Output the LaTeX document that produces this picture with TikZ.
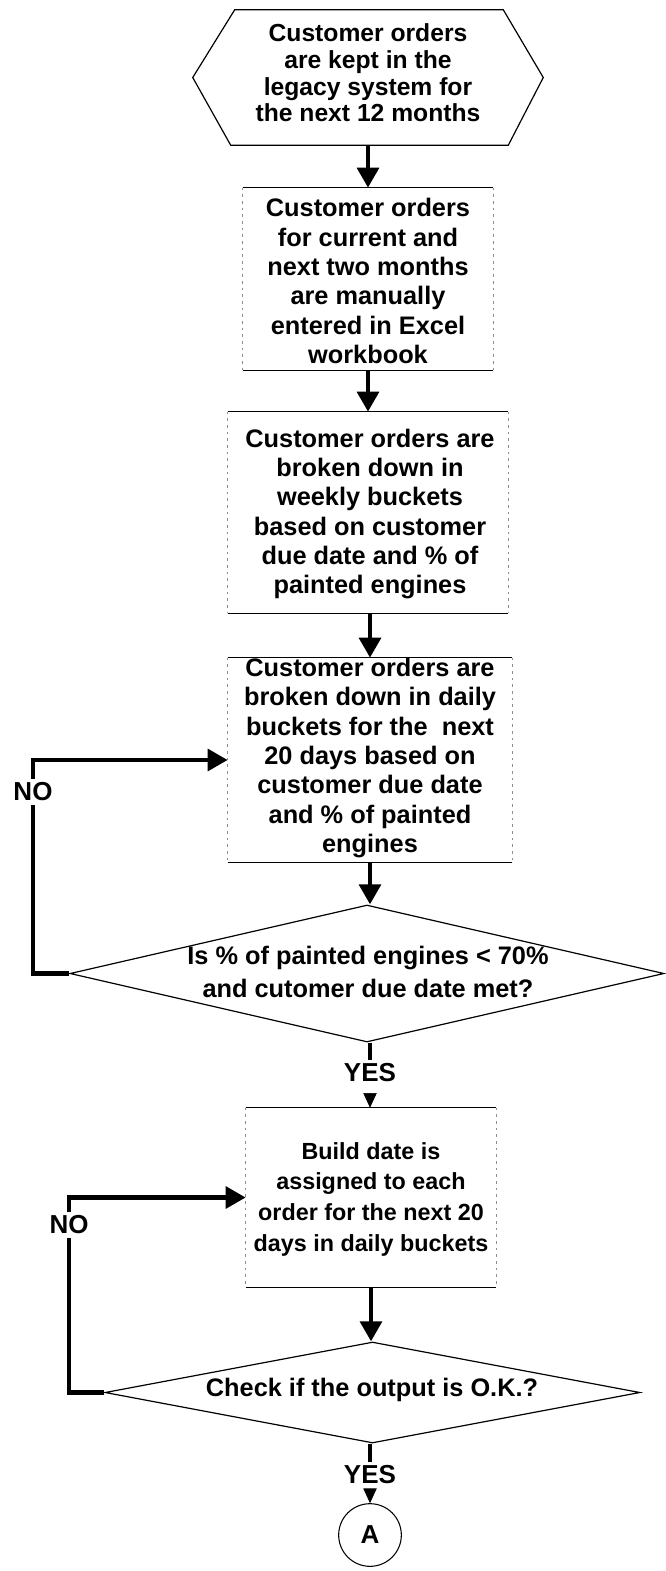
\documentclass[tikz,border=0pt]{standalone}
\usepackage{fontspec}
\setmainfont{Liberation Sans}
\usetikzlibrary{arrows.meta,calc,shapes.geometric}
\begin{document}
\begin{tikzpicture}[x=0.75pt,y=-0.75pt,
  txt/.style={font=\fontsize{19}{22}\selectfont\bfseries, align=center, inner sep=0pt},
  hextxt/.style={font=\fontsize{18.5}{20}\selectfont\bfseries, align=center, inner sep=0pt},
  dtxt/.style={font=\fontsize{19}{25}\selectfont\bfseries, align=center, inner sep=0pt},
  btxt/.style={font=\fontsize{17.5}{23}\selectfont\bfseries, align=center, inner sep=0pt},
  lbl/.style={font=\fontsize{19.5}{20}\selectfont\bfseries, inner sep=3pt},
  boxn/.style={rectangle, draw=none, inner sep=0pt},
  edge/.style={line width=1pt},
  side/.style={line width=0.4pt, draw=black!45, dash pattern=on 2pt off 3pt},
  outline/.style={line width=0.9pt},
  dia/.style={shape=diamond, draw, line width=0.9pt, inner sep=0pt},
  flow/.style={line width=3.6pt, -{Triangle[length=15pt,width=16pt]}},
  loopline/.style={line width=3.6pt},
  stub/.style={line width=3pt},
  small/.style={line width=0.5pt, shorten <=6pt, -{Triangle[length=11pt,width=10pt]}},
]
\useasboundingbox (0,0) rectangle (665,1571);

% hexagon
\node[boxn, minimum width=262.5pt, minimum height=101.25pt] (h) at (368,77.5) {};
\draw[outline] (h.west) -- ($(h.north west)+(42,0)$) -- ($(h.north east)+(-40,0)$) -- (h.east)
  -- ($(h.south east)+(-35,0)$) -- ($(h.south west)+(38,0)$) -- cycle;
\node[hextxt] (ht) at (368,73) {Customer orders\\are kept in the\\legacy system for\\the next 12 months};

% boxes
\node[boxn, minimum width=187.5pt, minimum height=136.5pt] (b2) at (368,279) {};
\node[txt] (t2) at (368,281) {Customer orders\\for current and\\next two months\\are manually\\entered in Excel\\workbook};

\node[boxn, minimum width=210pt, minimum height=150.75pt] (b3) at (368,512.5) {};
\node[txt] (t3) at (370,514) {Customer orders are\\broken down in\\weekly buckets\\based on customer\\due date and \% of\\painted engines};

\node[boxn, minimum width=213pt, minimum height=153pt] (b4) at (370,760) {};
\node[txt] (t4) at (370,758) {Customer orders are\\broken down in daily\\buckets for the~ next\\20 days based on\\customer due date\\and \% of painted\\engines};

\node[boxn, minimum width=187.5pt, minimum height=134.25pt] (b5) at (371,1197.5) {};
\node[btxt] (t5) at (371,1199) {Build date is\\assigned to each\\order for the next 20\\days in daily buckets};

\foreach \b in {b2,b3,b4,b5}{
  \draw[edge] (\b.north west) -- (\b.north east);
  \draw[edge] (\b.south west) -- (\b.south east);
  \draw[side] (\b.north west) -- (\b.south west);
  \draw[side] (\b.north east) -- (\b.south east);
}

% decisions
\node[dia, minimum width=445.5pt, minimum height=102.75pt] (d1) at (367,973.5) {};
\node[dtxt] (dt1) at (368,972) {Is \% of painted engines {<} 70\%\\and cutomer due date met?};

\node[dia, minimum width=401.25pt, minimum height=75.75pt] (d2) at (372.5,1392.5) {};
\node[dtxt] (dt2) at (372,1390) {Check if the output is O.K.?};

% connector circle
\node[circle, draw, line width=0.8pt, minimum size=47pt, inner sep=0pt,
      font=\fontsize{19.5}{20}\selectfont\bfseries] (A) at (370,1535) {A};

% labels
\node[lbl] (no1) at (33,792) {NO};
\node[lbl] (no2) at (69,1225) {NO};
\node[lbl] (yes1) at (370,1073) {YES};
\node[lbl] (yes2) at (370,1475) {YES};

% main flow
\draw[flow] (h.south -| b2.north) -- (b2.north);
\draw[flow] (b2.south) -- (b2.south |- b3.north);
\draw[flow] (b3.south -| b4.north) -- (b4.north);
\draw[flow] (b4.south) -- (b4.south |- d1.north);
\draw[flow] (b5.south -| b5.south) -- (b5.south |- d2.north);

% YES branches
\draw[stub] (d1.south -| yes1.north) -- (yes1.north);
\draw[small] (yes1.south) -- (yes1.south |- b5.north);
\draw[stub] (d2.south -| yes2.north) -- (yes2.north);
\draw[small] (yes2.south) -- (A.north);

% NO loops
\draw[loopline] (d1.west) -| (no1.south);
\draw[flow] (no1.north) |- (b4.west);
\draw[loopline] (d2.west) -| (no2.south);
\draw[flow] (no2.north) |- (b5.west);
\end{tikzpicture}
\end{document}
